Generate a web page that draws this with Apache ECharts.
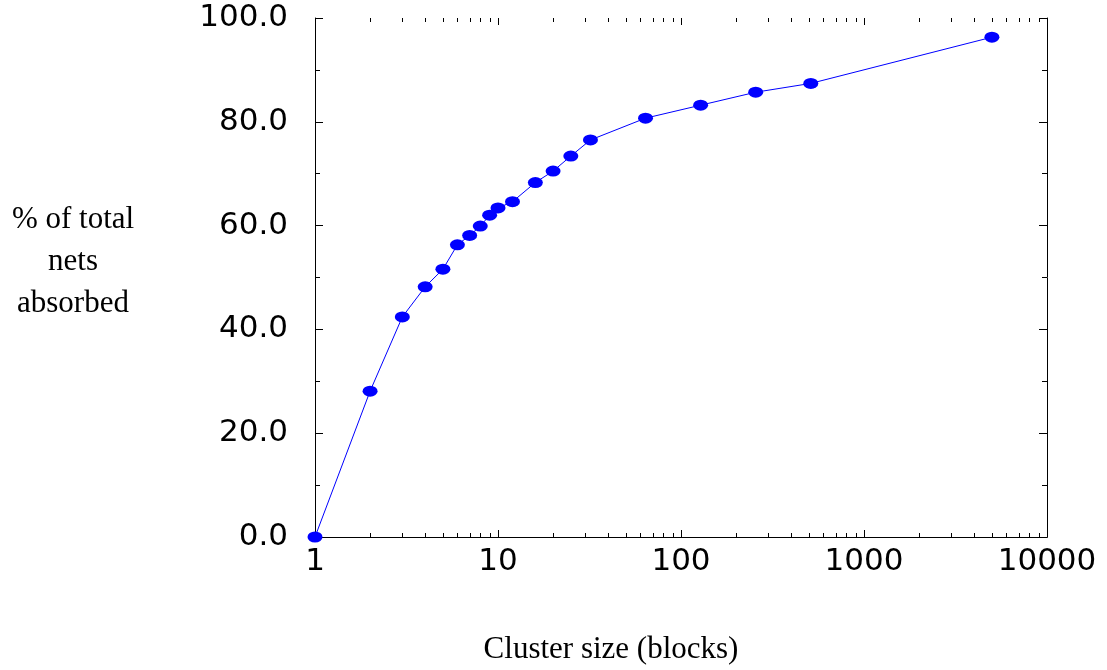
<!DOCTYPE html>
<html>
<head>
<meta charset="utf-8">
<script src="https://cdn.jsdelivr.net/npm/echarts@6/dist/echarts.min.js"></script>
<style>
  html, body { margin: 0; padding: 0; background: #fff; }
  #chart { width: 1107px; height: 670px; }
</style>
</head>
<body>
<div id="chart"></div>
<script>
// Cluster size (blocks) and share of nets absorbed at that size
const clusterSizes = [1, 2, 3, 4, 5, 6, 7, 8, 9, 10, 12, 16, 20, 25, 32, 64, 128, 256, 512, 5000];
const pctAbsorbed = [0.0, 28.1, 42.4, 48.2, 51.6, 56.3, 58.1, 59.9, 62.0, 63.4, 64.6, 68.3, 70.5, 73.4, 76.5, 80.7, 83.2, 85.7, 87.4, 96.3];

const xMin = 1, xMax = 10000;
const yMin = 0, yMax = 100, yStep = 20;

// Log-axis tick positions: decades get long ticks, 2..9 of each decade short ones
const xTickValues = [];
for (let d = xMin; d <= xMax; d *= 10) {
  xTickValues.push([d, 7]);
  if (d < xMax) for (let m = 2; m <= 9; m++) xTickValues.push([m * d, 4]);
}

const labelFont = { fontFamily: 'DejaVu Sans', fontSize: 31, color: '#000' };
const serif = 'Liberation Serif';

const chart = echarts.init(document.getElementById('chart'), null, { renderer: 'canvas' });

const tickStyle = { color: '#000', width: 1 };
const lineStyle = { color: '#000', width: 1 };

chart.setOption({
  animation: false,
  backgroundColor: '#fff',
  grid: { left: 315, right: 60, top: 18, bottom: 133 },
  xAxis: [
    {
      type: 'log', logBase: 10, min: xMin, max: xMax, position: 'bottom',
      axisLine: { show: true, lineStyle },
      axisTick: { show: false },
      axisLabel: { show: true, margin: 9, formatter: v => String(v), ...labelFont },
      splitLine: { show: false }
    },
    {
      type: 'log', logBase: 10, min: xMin, max: xMax, position: 'top',
      axisLine: { show: true, lineStyle },
      axisTick: { show: false },
      axisLabel: { show: false },
      splitLine: { show: false }
    }
  ],
  yAxis: [
    {
      type: 'value', min: yMin, max: yMax, interval: yStep, position: 'left',
      axisLine: { show: true, lineStyle },
      axisTick: { show: true, inside: true, length: 8, lineStyle: tickStyle },
      minorTick: { show: true, splitNumber: 2, length: 5, lineStyle: tickStyle },
      axisLabel: { show: true, margin: 27, formatter: v => v.toFixed(1), ...labelFont },
      splitLine: { show: false }
    },
    {
      type: 'value', min: yMin, max: yMax, interval: yStep, position: 'right',
      axisLine: { show: true, lineStyle },
      axisTick: { show: true, inside: true, length: 8, lineStyle: tickStyle },
      minorTick: { show: true, splitNumber: 2, length: 5, lineStyle: tickStyle },
      axisLabel: { show: false },
      splitLine: { show: false }
    }
  ],
  graphic: [
    {
      type: 'text', x: 73, y: 262,
      style: {
        text: '% of total\nnets\nabsorbed',
        font: '31px "' + serif + '"',
        fill: '#000', align: 'center', verticalAlign: 'middle', lineHeight: 42
      }
    },
    {
      type: 'text', x: 611, y: 650,
      style: {
        text: 'Cluster size (blocks)',
        font: '31px "' + serif + '"',
        fill: '#000', align: 'center', verticalAlign: 'middle'
      }
    }
  ],
  series: [
    {
      // log-axis ticks, drawn inward on the bottom and top edges
      type: 'custom',
      xAxisIndex: 0, yAxisIndex: 0,
      silent: true, clip: false, z: 1,
      data: xTickValues,
      encode: { x: 0 },
      renderItem: function (params, api) {
        const v = api.value(0);
        const len = api.value(1);
        const b = api.coord([v, yMin]);
        const t = api.coord([v, yMax]);
        const x = Math.round(b[0]) + 0.5;
        const s = { stroke: '#000', lineWidth: 1 };
        return {
          type: 'group',
          children: [
            { type: 'line', shape: { x1: x, y1: b[1], x2: x, y2: b[1] - len }, style: s },
            { type: 'line', shape: { x1: x, y1: t[1], x2: x, y2: t[1] + len }, style: s }
          ]
        };
      }
    },
    {
      type: 'line',
      xAxisIndex: 0, yAxisIndex: 0,
      data: clusterSizes.map((s, i) => [s, pctAbsorbed[i]]),
      symbol: 'path://M0,5.5a7.5,5.5 0 1,0 15,0a7.5,5.5 0 1,0 -15,0z',
      symbolSize: [15, 11],
      showAllSymbol: true,
      clip: false,
      z: 5,
      lineStyle: { color: '#0000ff', width: 1 },
      itemStyle: { color: '#0000ff', borderWidth: 0 }
    }
  ]
});
</script>
</body>
</html>
